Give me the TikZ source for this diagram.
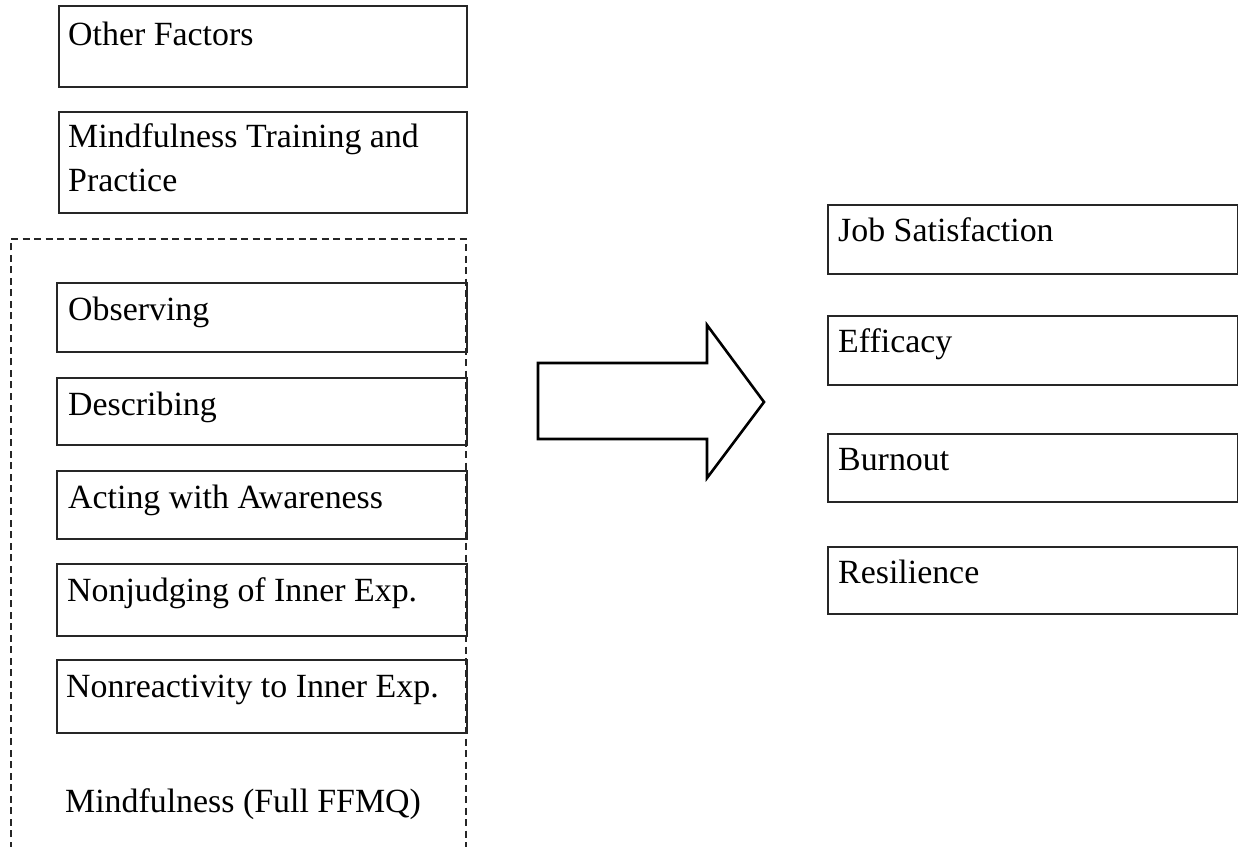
\documentclass[tikz,border=0pt]{standalone}
\usepackage{fontspec}
\setmainfont{Liberation Serif}
\begin{document}
\begin{tikzpicture}[x=1bp,y=-1bp,
  box/.style={draw=black!85, line width=1.6bp, inner sep=0pt, anchor=north west},
  lbl/.style={anchor=base west, inner sep=0pt, font=\fontsize{34}{45}\selectfont},
  lbltwo/.style={anchor=north west, inner sep=0pt, align=left, font=\fontsize{34}{45}\selectfont},
  frame/.style={draw=black!85, line width=1.6bp, dash pattern=on 7bp off 4.5bp},
  bigarrow/.style={draw=black, line width=2.6bp, line join=miter, fill=white}]
\useasboundingbox (0,0) rectangle (1238,847);
% dashed frame round the FFMQ facets (open at the bottom edge)
\draw[frame] (11,860) -- (11,239) -- (466,239) -- (466,860);
% left boxes
\node[box, minimum width=408bp, minimum height=81bp] (of) at (58,5) {};
\node[lbl] at ([shift={(10,40)}]of.north west) {Other Factors};
\node[box, minimum width=408bp, minimum height=101bp] (mt) at (58,111) {};
\node[lbltwo] at ([shift={(10,12)}]mt.north west) {Mindfulness Training and\\Practice};
\node[box, minimum width=410bp, minimum height=69bp] (obs) at (56,282) {};
\node[lbl] at ([shift={(12,38)}]obs.north west) {Observing};
\node[box, minimum width=410bp, minimum height=67bp] (des) at (56,377) {};
\node[lbl] at ([shift={(12,38)}]des.north west) {Describing};
\node[box, minimum width=410bp, minimum height=68bp] (act) at (56,470) {};
\node[lbl] at ([shift={(12,38)}]act.north west) {Acting with Awareness};
\node[box, minimum width=410bp, minimum height=72bp] (nj) at (56,563) {};
\node[lbl] at ([shift={(11,38)}]nj.north west) {Nonjudging of Inner Exp.};
\node[box, minimum width=410bp, minimum height=73bp] (nr) at (56,659) {};
\node[lbl] at ([shift={(10,38)}]nr.north west) {Nonreactivity to Inner Exp.};
\node[lbl] (ffmq) at (65,812) {Mindfulness (Full FFMQ)};
% block arrow
\draw[bigarrow] (538,363) -- (707,363) -- (707,325) -- (764,402) -- (707,478) -- (707,439) -- (538,439) -- cycle;
% right boxes
\node[box, minimum width=410bp, minimum height=69bp] (js) at (827,204) {};
\node[lbl] at ([shift={(11,37)}]js.north west) {Job Satisfaction};
\node[box, minimum width=410bp, minimum height=69bp] (ef) at (827,315) {};
\node[lbl] at ([shift={(11,37)}]ef.north west) {Efficacy};
\node[box, minimum width=410bp, minimum height=68bp] (bo) at (827,433) {};
\node[lbl] at ([shift={(11,37)}]bo.north west) {Burnout};
\node[box, minimum width=410bp, minimum height=67bp] (rs) at (827,546) {};
\node[lbl] at ([shift={(11,37)}]rs.north west) {Resilience};
\end{tikzpicture}
\end{document}
